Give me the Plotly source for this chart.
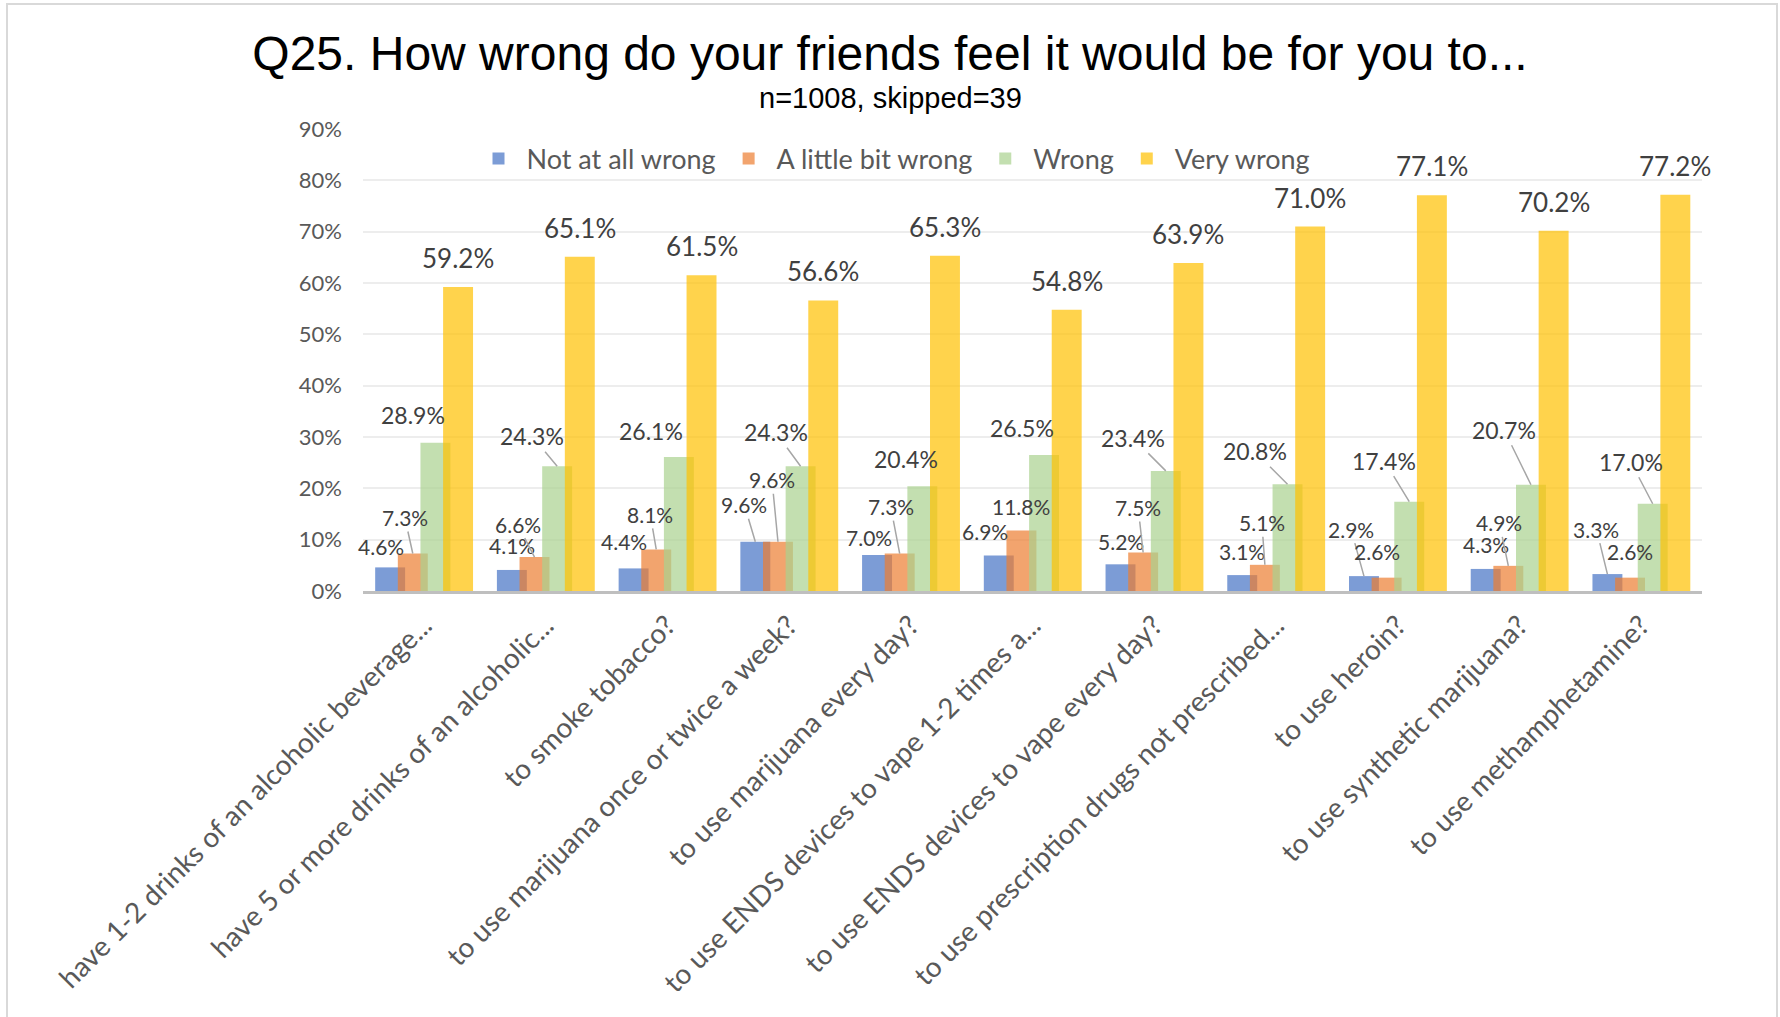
import plotly.graph_objects as go

# ---- data -------------------------------------------------------------
categories = [
    "have 1-2 drinks of an alcoholic beverage...",
    "have 5 or more drinks of an alcoholic...",
    "to smoke tobacco?",
    "to use marijuana once or twice a week?",
    "to use marijuana every day?",
    "to use ENDS devices to vape 1-2 times a...",
    "to use ENDS devices to vape every day?",
    "to use prescription drugs not prescribed...",
    "to use heroin?",
    "to use synthetic marijuana?",
    "to use methamphetamine?",
]
series_names = ["Not at all wrong", "A little bit wrong", "Wrong", "Very wrong"]
not_at_all_wrong = [4.6, 4.1, 4.4, 9.6, 7.0, 6.9, 5.2, 3.1, 2.9, 4.3, 3.3]
a_little_bit_wrong = [7.3, 6.6, 8.1, 9.6, 7.3, 11.8, 7.5, 5.1, 2.6, 4.9, 2.6]
wrong = [28.9, 24.3, 26.1, 24.3, 20.4, 26.5, 23.4, 20.8, 17.4, 20.7, 17.0]
very_wrong = [59.2, 65.1, 61.5, 56.6, 65.3, 54.8, 63.9, 71.0, 77.1, 70.2, 77.2]
y_ticks = [0, 10, 20, 30, 40, 50, 60, 70, 80, 90]

# ---- style -------------------------------------------------------------
colors = ["rgba(68,114,196,0.7)", "rgba(237,125,49,0.7)",
          "rgba(169,209,142,0.7)", "rgba(255,192,0,0.7)"]
bar_width = 0.246
bar_offsets = [-0.400, -0.214, -0.028, 0.158]
label_sizes = [21, 21, 23, 26]
FONT = "Lato"

# label placement: (dx, dy in px from bar top, draw leader line)
label_pos = [
    [(-9, -21, False), (0, -24, False), (-10, -27, False), (-11, -37, True),
     (-8, -18, False), (-14, -24, False), (0, -23, False), (0, -24, False),
     (-13, -47, True), (0, -24, False), (-11, -45, True)],
    [(-8, -36, True), (-17, -33, True), (-6, -35, True), (-6, -62, True),
     (-9, -47, True), (0, -24, False), (-5, -45, True), (-3, -42, True),
     (-10, -26, False), (-9, -43, True), (0, -26, False)],
    [(-22, -28, False), (-25, -30, True), (-28, -26, False), (-25, -34, True),
     (-16, -27, False), (-22, -27, False), (-33, -33, True), (-33, -33, True),
     (-25, -41, True), (-27, -55, True), (-22, -42, True)],
    [(0, -29, False)] * 11,
]

# plot-area geometry (px)
W, H = 1780, 1017
L, R, T, B = 363, 78, 129, 426
plot_w = W - L - R
plot_h = H - T - B


def px_to_paper_x(px):
    return (px - L) / plot_w


def px_to_paper_y(py):
    return (H - B - py) / plot_h


all_series = [not_at_all_wrong, a_little_bit_wrong, wrong, very_wrong]

fig = go.Figure()
for name, vals, col, off in zip(series_names, all_series, colors, bar_offsets):
    fig.add_trace(go.Bar(
        name=name,
        x=categories,
        y=[v / 100 for v in vals],
        width=bar_width,
        offset=off,
        marker=dict(color=col, line=dict(width=0)),
        hoverinfo="x+y+name",
    ))

annotations = []
for s, vals in enumerate(all_series):
    center = bar_offsets[s] + bar_width / 2
    for i, v in enumerate(vals):
        dx, dy, leader = label_pos[s][i]
        annotations.append(dict(
            x=i + center, y=v / 100, xref="x", yref="y",
            text=f"{v:.1f}%",
            showarrow=True, arrowhead=0, arrowwidth=1.5,
            arrowcolor="#A6A6A6" if leader else "rgba(0,0,0,0)",
            ax=dx, ay=dy,
            font=dict(family=FONT, size=label_sizes[s], color="#404040"),
        ))

# subtitle
annotations.append(dict(
    text="n=1008, skipped=39", xref="paper", yref="paper",
    x=px_to_paper_x(890), y=px_to_paper_y(98),
    xanchor="center", yanchor="middle", showarrow=False,
    font=dict(family="Liberation Sans", size=29, color="#000000"),
))

# outer chart frame
shapes = [dict(
    type="rect", xref="paper", yref="paper",
    x0=px_to_paper_x(7), x1=px_to_paper_x(1777),
    y0=px_to_paper_y(1040), y1=px_to_paper_y(4),
    line=dict(color="#D9D9D9", width=2), fillcolor="rgba(0,0,0,0)",
    layer="below",
)]

fig.update_layout(
    width=W, height=H,
    margin=dict(l=L, r=R, t=T, b=B, autoexpand=False),
    paper_bgcolor="white", plot_bgcolor="white",
    barmode="overlay",
    title=dict(
        text="Q25. How wrong do your friends feel it would be for you to...",
        x=0.5, xref="container", xanchor="center",
        y=1 - 53 / H, yref="container", yanchor="middle",
        font=dict(family="Liberation Sans", size=48, color="#000000"),
    ),
    legend=dict(
        orientation="h", x=px_to_paper_x(893), y=px_to_paper_y(159),
        xanchor="center", yanchor="middle", itemwidth=46,
        font=dict(family=FONT, size=27, color="#595959"),
        bgcolor="rgba(0,0,0,0)",
    ),
    xaxis=dict(
        type="category", range=[-0.5, len(categories) - 0.5],
        tickangle=-45, showgrid=False, ticks="",
        showline=True, linecolor="#BFBFBF", linewidth=3,
        tickfont=dict(family=FONT, size=28, color="#595959"),
        ticklabelstandoff=4,
        automargin=False,
    ),
    yaxis=dict(
        range=[0, 0.9], tickvals=[t / 100 for t in y_ticks],
        ticktext=[f"{t}%" for t in y_ticks],
        showgrid=True, gridcolor="#EDEDED", gridwidth=2,
        zeroline=False, ticks="", ticklabelstandoff=20,
        tickfont=dict(family=FONT, size=22, color="#595959"),
        automargin=False,
    ),
    annotations=annotations,
    shapes=shapes,
    showlegend=True,
)

fig.write_html("out.html")
